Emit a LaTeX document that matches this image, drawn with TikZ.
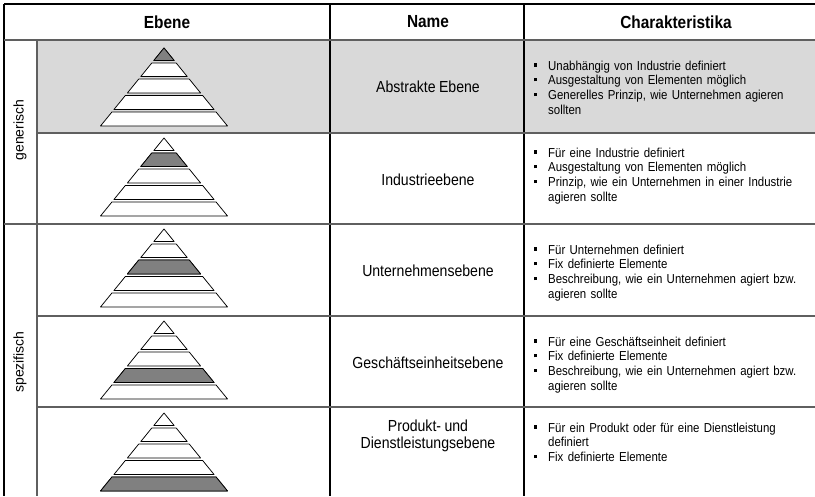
\documentclass[tikz,border=0pt]{standalone}
\usepackage{fontspec}
\setmainfont{Liberation Sans}[FakeStretch=0.88,WordSpace=0.88]
\newfontfamily\sidefont{Liberation Sans}
\usetikzlibrary{calc}

\definecolor{rowgray}{HTML}{D9D9D9}
\definecolor{layergray}{HTML}{808080}
\definecolor{linegray}{HTML}{5F5F5F}

\newcommand{\bitem}[1]{\hangindent=14pt\hangafter=1\noindent\makebox[14pt][l]{\rule[3.4pt]{3.2pt}{3.2pt}}#1\par}
\newcommand{\brk}{\hfil\break}

% #1 centre x, #2 apex y, #3/#4 top and bottom of the dark layer
\newcommand{\pyramid}[4]{
	\foreach \ya/\yb in {0/12.5,15/28.5,31/45,47.5/61.5,64/78}
	{
		\draw[layer] (#1-0.814*\ya,#2+\ya) -- (#1+0.814*\ya,#2+\ya) -- (#1+0.814*\yb,#2+\yb) -- (#1-0.814*\yb,#2+\yb) -- cycle;
	}
	\draw[layer,fill=layergray] (#1-0.814*#3,#2+#3) -- (#1+0.814*#3,#2+#3) -- (#1+0.814*#4,#2+#4) -- (#1-0.814*#4,#2+#4) -- cycle;
}

\begin{document}
\begin{tikzpicture}
	[x=1pt,y=-1pt,
	colhead/.style={font=\fontsize{17.5}{20}\selectfont\bfseries,inner sep=0pt},
	sidelabel/.style={font=\sidefont\fontsize{14}{16}\selectfont,rotate=90,inner sep=0pt},
	lvlname/.style={font=\fontsize{16}{16.5}\selectfont,align=center,inner sep=0pt},
	lvlchars/.style={font=\fontsize{13}{14.7}\selectfont,text width=280pt,align=left,anchor=base west,inner sep=0pt},
	layer/.style={draw=black,line width=0.75pt,fill=white,line join=round},
	rowrule/.style={draw=linegray,line width=1.3pt}]
	\useasboundingbox (0,0) rectangle (815,496);
	\fill[rowgray] (37,40) rectangle (815,133);
	
	\draw[line width=1.2pt] (4,4) -- (815,4);
	\foreach \xa in {4,330,524}
	{
		\draw[line width=1.2pt] (\xa,4) -- (\xa,496);
	}
	\draw[rowrule] (37,40) -- (37,496);
	\draw[rowrule] (4,40) -- (815,40);
	\draw[rowrule] (4,224) -- (815,224);
	\foreach \ya in {133,316,407}
	{
		\draw[rowrule] (37,\ya) -- (815,\ya);
	}
	
	\node[colhead] (hEbene) at (167,22) {Ebene};
	\node[colhead] (hName) at (428,22) {Name};
	\node[colhead] (hChar) at (676,22) {Charakteristika};
	
	\node[sidelabel] (generisch) at (20,130) {generisch};
	\node[sidelabel] (spezifisch) at (20,362) {spezifisch};
	
	\pyramid{164}{48}{0}{12.5}
	\pyramid{164}{138}{15}{28.5}
	\pyramid{164}{229}{31}{45}
	\pyramid{164}{321}{47.5}{61.5}
	\pyramid{164}{413}{64}{78}
	
	\node[lvlname] (abstrakt) at (428,87) {Abstrakte Ebene};
	\node[lvlname] (industrie) at (428,180) {Industrieebene};
	\node[lvlname] (unternehmen) at (428,271) {Unternehmensebene};
	\node[lvlname] (geschaeft) at (428,363) {Geschäftseinheitsebene};
	\node[lvlname] (produkt) at (428,436) {Produkt- und\\Dienstleistungsebene};
	
	\node[lvlchars] (cAbstrakt) at (534,70) {%
		\bitem{Unabhängig von Industrie definiert}%
		\bitem{Ausgestaltung von Elementen möglich}%
		\bitem{Generelles Prinzip, wie Unternehmen agieren\brk sollten}};
	\node[lvlchars] (cIndustrie) at (534,157) {%
		\bitem{Für eine Industrie definiert}%
		\bitem{Ausgestaltung von Elementen möglich}%
		\bitem{Prinzip, wie ein Unternehmen in einer Industrie\brk agieren sollte}};
	\node[lvlchars] (cUnternehmen) at (534,254) {%
		\bitem{Für Unternehmen definiert}%
		\bitem{Fix definierte Elemente}%
		\bitem{Beschreibung, wie ein Unternehmen agiert bzw.\brk agieren sollte}};
	\node[lvlchars] (cGeschaeft) at (534,346) {%
		\bitem{Für eine Geschäftseinheit definiert}%
		\bitem{Fix definierte Elemente}%
		\bitem{Beschreibung, wie ein Unternehmen agiert bzw.\brk agieren sollte}};
	\node[lvlchars] (cProdukt) at (534,432) {%
		\bitem{Für ein Produkt oder für eine Dienstleistung\brk definiert}%
		\bitem{Fix definierte Elemente}};
\end{tikzpicture}
\end{document}
